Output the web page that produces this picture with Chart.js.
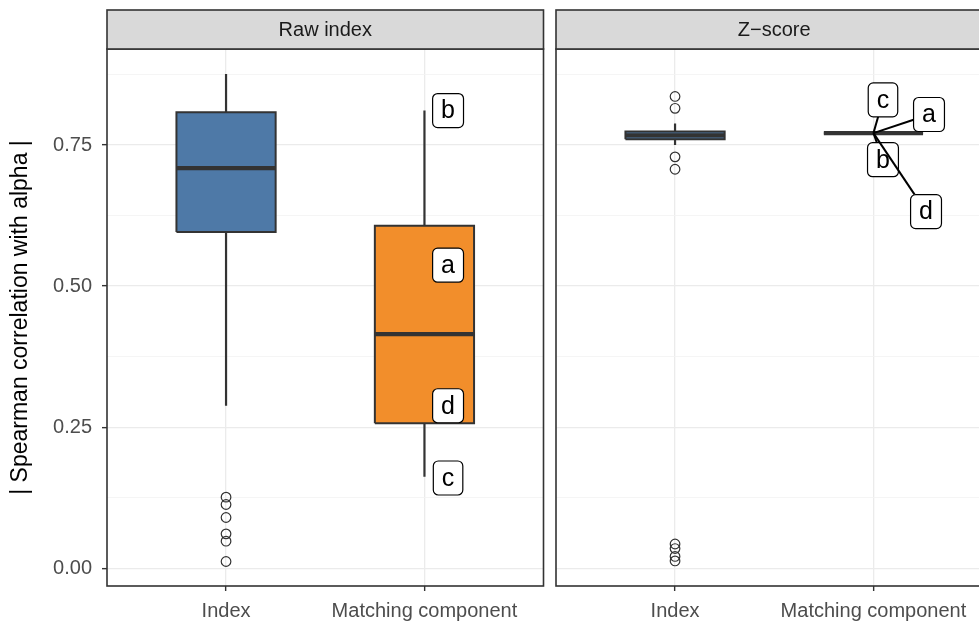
<!DOCTYPE html>
<html><head><meta charset="utf-8">
<script src="https://cdn.jsdelivr.net/npm/chart.js@4/dist/chart.umd.min.js"></script>
<style>
html,body{margin:0;padding:0;background:#fff;overflow:hidden;width:979px;height:621px;}
canvas{position:absolute;top:0;}
#c1{left:0;} #c2{left:548px;}
</style></head><body>
<canvas id="c1" width="552" height="621"></canvas>
<canvas id="c2" width="451" height="621"></canvas>
<script>
// ---------- data ----------
const categories = ['Index', 'Matching component'];
const panelTitles = ['Raw index', 'Z\u2212score'];
const yTickValues = [0, 0.25, 0.5, 0.75];
const yTickLabels = ['0.00', '0.25', '0.50', '0.75'];
const yMinorValues = [0.125, 0.375, 0.625, 0.875];
// box stats: [lower whisker, q1, median, q3, upper whisker]
const rawIndexStats = [0.288, 0.596, 0.709, 0.808, 0.876];
const rawMatchStats = [0.162, 0.257, 0.415, 0.607, 0.811];
const rawIndexOutliers = [0.126, 0.113, 0.090, 0.061, 0.048, 0.012];
const zIndexStats = [0.750, 0.760, 0.767, 0.774, 0.788];
const zMatchStats = [0.771, 0.771, 0.771, 0.771, 0.771];
const zIndexOutliers = [0.836, 0.815, 0.729, 0.707, 0.043, 0.035, 0.021, 0.013];
const labelNames = ['a', 'b', 'c', 'd'];
const rawLabelY = [0.537, 0.811, 0.160, 0.288];
const zLabelPointY = [0.771, 0.771, 0.771, 0.771];
const zLabelX = [2.28, 2.048, 2.048, 2.265];
const zLabelY = [0.804, 0.724, 0.830, 0.632];
const boxColors = ['#4E79A7', '#F28E2B'];

// ---------- style ----------
const FONT = "'Liberation Sans', Arial, Helvetica, sans-serif";
const INK = '#333333';
const HALF = 0.25;
const RAW_NUDGE = 0.119;
const Y_MIN = -0.0314, Y_MAX = 0.9201;
const isMajor = v => yTickValues.some(t => Math.abs(t - v) < 1e-9);

function boxDatasets(pos, s, color) {
  const [lo, q1, med, q3, hi] = s;
  return [
    {data: [{x: pos - HALF, y: q3}, {x: pos + HALF, y: q3}], fill: {value: q1}, backgroundColor: color, borderWidth: 0, borderColor: 'rgba(0,0,0,0)', order: 6},
    {data: [{x: pos, y: lo}, {x: pos, y: q1}], borderColor: INK, borderWidth: 2.2, order: 5},
    {data: [{x: pos, y: q3}, {x: pos, y: hi}], borderColor: INK, borderWidth: 2.2, order: 5},
    {data: [{x: pos - HALF, y: q1}, {x: pos + HALF, y: q1}, {x: pos + HALF, y: q3}, {x: pos - HALF, y: q3}, {x: pos - HALF, y: q1}], borderColor: INK, borderWidth: 2, borderJoinStyle: 'miter', order: 4},
    {data: [{x: pos - HALF, y: med}, {x: pos + HALF, y: med}], borderColor: INK, borderWidth: 4.2, borderCapStyle: 'butt', order: 3}
  ];
}
function outlierDataset(pos, vals) {
  return {data: vals.map(v => ({x: pos, y: v})), showLine: false, pointRadius: 4.8, pointBorderWidth: 1.2,
          pointBorderColor: INK, pointBackgroundColor: 'rgba(0,0,0,0)', order: 2};
}

function roundRect(ctx, x, y, w, h, r) {
  ctx.beginPath();
  ctx.moveTo(x + r, y); ctx.lineTo(x + w - r, y); ctx.arcTo(x + w, y, x + w, y + r, r);
  ctx.lineTo(x + w, y + h - r); ctx.arcTo(x + w, y + h, x + w - r, y + h, r);
  ctx.lineTo(x + r, y + h); ctx.arcTo(x, y + h, x, y + h - r, r);
  ctx.lineTo(x, y + r); ctx.arcTo(x, y, x + r, y, r); ctx.closePath();
}

const panelDecor = {
  id: 'panelDecor',
  afterDatasetsDraw(chart, args, opts) {
    const {ctx, scales: {x, y}} = chart;
    ctx.save();
    ctx.font = '25px ' + FONT;
    (opts.labels || []).forEach(L => {
      const px = x.getPixelForValue(L.px), py = y.getPixelForValue(L.py);
      const cx = x.getPixelForValue(L.lx), cy = y.getPixelForValue(L.ly);
      const tw = ctx.measureText(L.text).width;
      const w = tw + 17, h = 34;
      if (L.segment) {
        const dx = cx - px, dy = cy - py;
        const s = Math.max(Math.abs(dx) / (w / 2), Math.abs(dy) / (h / 2));
        if (s > 1) {
          ctx.beginPath(); ctx.moveTo(px, py); ctx.lineTo(cx - dx / s, cy - dy / s);
          ctx.strokeStyle = '#000'; ctx.lineWidth = 2; ctx.stroke();
        }
      }
      roundRect(ctx, cx - w / 2, cy - h / 2, w, h, 5);
      ctx.fillStyle = '#fff'; ctx.fill();
      ctx.strokeStyle = '#000'; ctx.lineWidth = 1.2; ctx.stroke();
      ctx.fillStyle = '#000'; ctx.textAlign = 'center'; ctx.textBaseline = 'middle';
      ctx.fillText(L.text, cx, cy + 1);
    });
    ctx.restore();
  },
  afterDraw(chart, args, opts) {
    const {ctx, chartArea: a} = chart;
    ctx.save();
    ctx.strokeStyle = INK; ctx.lineWidth = 1.6;
    ctx.strokeRect(a.left, a.top, a.right - a.left, a.bottom - a.top);
    ctx.fillStyle = '#D9D9D9';
    ctx.fillRect(a.left, 10, a.right - a.left, a.top - 10);
    ctx.strokeRect(a.left, 10, a.right - a.left, a.top - 10);
    ctx.fillStyle = '#1A1A1A'; ctx.font = '20px ' + FONT;
    ctx.textAlign = 'center'; ctx.textBaseline = 'middle';
    ctx.fillText(opts.title, (a.left + a.right) / 2, (10 + a.top) / 2 + 1);
    ctx.restore();
  }
};

function makeChart(id, title, datasets, labels, showY, pad) {
  return new Chart(document.getElementById(id), {
    type: 'line',
    data: {datasets},
    plugins: [panelDecor],
    options: {
      responsive: false, animation: false, events: [],
      layout: {padding: pad},
      elements: {point: {radius: 0}, line: {tension: 0, fill: false}},
      plugins: {legend: {display: false}, tooltip: {enabled: false}, panelDecor: {title, labels}},
      scales: {
        x: {
          type: 'linear', min: 0.4, max: 2.6,
          afterBuildTicks: s => { s.ticks = categories.map((c, i) => ({value: i + 1})); },
          afterFit: s => { s.height = 35; },
          ticks: {callback: v => categories[Math.round(v) - 1], color: '#4D4D4D', font: {family: FONT, size: 20},
                  padding: 8, maxRotation: 0, autoSkip: false},
          grid: {color: '#EBEBEB', lineWidth: 1.3, tickColor: INK, tickLength: 5, tickWidth: 1.4},
          border: {display: false}
        },
        y: {
          type: 'linear', min: Y_MIN, max: Y_MAX,
          afterBuildTicks: s => { s.ticks = yTickValues.concat(yMinorValues).sort((p, q) => p - q).map(v => ({value: v})); },
          afterFit: s => { s.width = showY ? 107 : 0; },
          title: {display: showY, text: '| Spearman correlation with alpha |', color: '#000',
                  font: {family: FONT, size: 23}, padding: {top: 7, bottom: 0}},
          ticks: {display: showY, autoSkip: false, padding: 10, color: '#4D4D4D', font: {family: FONT, size: 20},
                  callback: v => { const i = yTickValues.findIndex(t => Math.abs(t - v) < 1e-9); return i >= 0 ? yTickLabels[i] : ''; }},
          grid: {drawTicks: showY, tickLength: 5, tickWidth: 1.4,
                 color: c => isMajor(c.tick.value) ? '#EBEBEB' : '#F3F3F3',
                 lineWidth: c => isMajor(c.tick.value) ? 1.3 : 0.8,
                 tickColor: c => isMajor(c.tick.value) ? INK : 'rgba(0,0,0,0)'},
          border: {display: false}
        }
      }
    }
  });
}

const rawDatasets = [
  ...boxDatasets(1, rawIndexStats, boxColors[0]),
  ...boxDatasets(2, rawMatchStats, boxColors[1]),
  outlierDataset(1, rawIndexOutliers)
];
const zDatasets = [
  ...boxDatasets(1, zIndexStats, boxColors[0]),
  ...boxDatasets(2, zMatchStats, boxColors[1]),
  outlierDataset(1, zIndexOutliers)
];
const rawLabels = labelNames.map((t, i) => ({text: t, px: 2, py: rawLabelY[i], lx: 2 + RAW_NUDGE, ly: rawLabelY[i], segment: false}));
const zLabels = labelNames.map((t, i) => ({text: t, px: 2, py: zLabelPointY[i], lx: zLabelX[i], ly: zLabelY[i], segment: true}));

makeChart('c1', panelTitles[0], rawDatasets, rawLabels, true, {top: 49, left: 0, right: 8.5, bottom: 0});
makeChart('c2', panelTitles[1], zDatasets, zLabels, false, {top: 49, left: 8, right: 6.5, bottom: 0});
</script>
</body></html>
